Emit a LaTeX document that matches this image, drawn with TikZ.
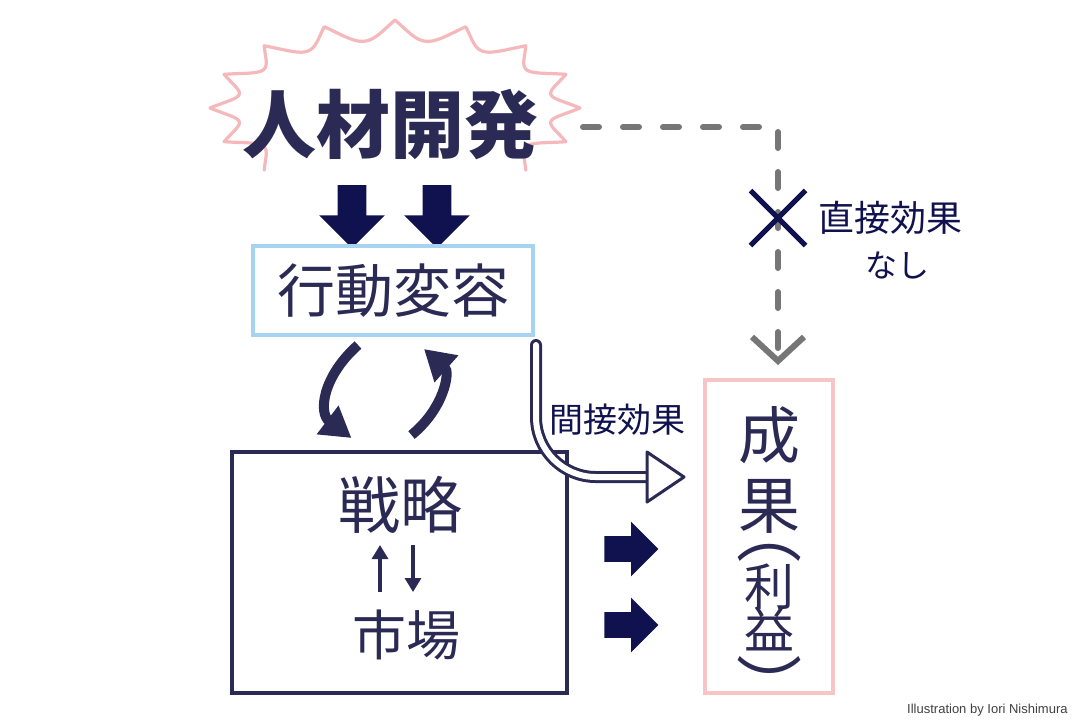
\documentclass[tikz,border=0pt]{standalone}
\usepackage{fontspec}
\usepackage{xcolor}
\usepackage{tikz}
\usetikzlibrary{positioning,arrows.meta,shapes.arrows,shapes.misc,calc}
\newfontfamily\jp{Noto Sans CJK JP}
\newfontfamily\creditfont{Liberation Sans}
\newcommand\tightlines{\lineskiplimit=-50pt\relax}
\definecolor{ink}{HTML}{2B2A55}
\definecolor{deepnavy}{HTML}{10114F}
\definecolor{skyline}{HTML}{A6D3F2}
\definecolor{rosy}{HTML}{F7C5C6}
\definecolor{burstpink}{HTML}{F5B9BC}
\definecolor{dashgray}{HTML}{767676}

\begin{document}
\begin{tikzpicture}[x=0.5pt,y=-0.5pt,
            box/.style={rectangle,draw,line width=2pt,inner sep=0pt},
            jtext/.style={text=ink,inner sep=0pt},
            blockdown/.style={single arrow,draw=none,fill=deepnavy,inner xsep=0pt,inner ysep=7pt,minimum height=31.5pt,minimum width=32.5pt,single arrow head extend=9.25pt,rotate=-90},
            blockright/.style={single arrow,draw=none,fill=deepnavy,inner xsep=0pt,inner ysep=6.25pt,minimum height=27pt,minimum width=27pt,single arrow head extend=7.25pt},
            cyclearrow/.style={draw=ink,line width=5pt,-{Triangle[length=15pt,width=17pt]}},
            smallarrow/.style={draw=ink,line width=1.6pt,-{Triangle[length=7pt,width=8pt]}},
            dashline/.style={draw=dashgray,line width=3pt,line cap=round,dash pattern=on 8pt off 12pt,-{Straight Barb[length=12pt,width=26pt]}},
            hollow/.style={draw=ink,line width=1.5pt,double=white,double distance=3pt,line cap=round,rounded corners=30pt}]
            \path[fill=white] (0,0) rectangle (1080,720);
            \draw[burstpink,line width=1.6pt,line cap=round,line join=round] plot[domain=135:405,samples=241,variable=\t] ({395+(185-26*abs(sin(8*\t)))*cos(\t)},{108+(88-20*abs(sin(8*\t)))*sin(\t)});
            \node[jtext,font=\jp\bfseries\fontsize{37}{40}\selectfont] (jinzai) at (390,125) {人材開発};
            \node[blockdown] (downA) at (352,209.5) {};
            \node[blockdown] (downB) at (437,209.5) {};
            \node[box,draw=skyline,minimum width=140pt,minimum height=44.5pt] (gyodo) at (393,290.5) {};
            \node[jtext,font=\jp\fontsize{29}{32}\selectfont] (gyodotext) at (gyodo) {行動変容};
            \node[box,draw=ink,minimum width=167.5pt,minimum height=120.5pt] (senryaku) at (399.5,572.5) {};
            \node[jtext,font=\jp\fontsize{31}{34}\selectfont] (senryakutext) at (400,505) {戦略};
            \node[jtext,font=\jp\fontsize{27}{30}\selectfont] (shijo) at (406,635) {市場};
            \node[box,draw=rosy,minimum width=64pt,minimum height=156.5pt] (seika) at (769,536.5) {};
            \node[jtext,align=center,font=\jp\fontsize{31}{35}\selectfont] (seikatext) at (769,470) {成\\果};
            \node[jtext,font=\jp\fontsize{33}{35}\selectfont] (openp) at (769,553) {︵};
            \node[jtext,align=center,font=\jp\fontsize{25}{21.5}\selectfont\tightlines] (rieki) at (769,607) {利\\益};
            \node[jtext,font=\jp\fontsize{33}{35}\selectfont] (closep) at (769,684) {︶};
            \node[blockright] (rightA) at (625,549) {};
            \node[blockright] (rightB) at (625,625) {};
            \draw[cyclearrow] ($(gyodo.south)+(-35,8)$) .. controls +(-36,32) and +(-33,-25) .. ($(senryaku.north)+(-48,-12)$);
            \draw[cyclearrow] ($(senryaku.north)+(12,-15)$) .. controls +(33,-27) and +(26,23) .. ($(gyodo.south)+(31,12)$);
            \draw[smallarrow] (380,592) -- (380,545);
            \draw[smallarrow] (413,545) -- (413,592);
            \coordinate (burstR) at (583,127);
            \draw[dashline] (burstR) -| ($(seika.north)+(9,-13)$);
            \node[cross out,draw=deepnavy,line width=2.5pt,minimum size=25pt,inner sep=0pt] (nodirect) at (778,218) {};
            \node[jtext,text=deepnavy,font=\jp\fontsize{18}{20}\selectfont,anchor=west] (directlbl) at (818,218) {直接効果};
            \node[jtext,text=deepnavy,font=\jp\fontsize{16}{18}\selectfont] (nashi) at (897,265) {なし};
            \coordinate (bendtop) at ($(gyodo.south east)+(1,8)$);
            \coordinate (bendend) at (650,477);
            \draw[hollow] (bendtop) |- (bendend);
            \draw[draw=ink,fill=white,line width=1.5pt,line join=round] (bendend) ++(-3,-25) -- ++(37,25) -- ++(-37,25) -- cycle;
            \node[jtext,text=deepnavy,font=\jp\fontsize{17}{19}\selectfont] (indirectlbl) at (617,420) {間接効果};
            \node[text=black!75,inner sep=0pt,font=\creditfont\fontsize{6.5}{8}\selectfont,anchor=east] (credit) at (1068,710) {Illustration by Iori Nishimura};
        \end{tikzpicture}
\end{document}
